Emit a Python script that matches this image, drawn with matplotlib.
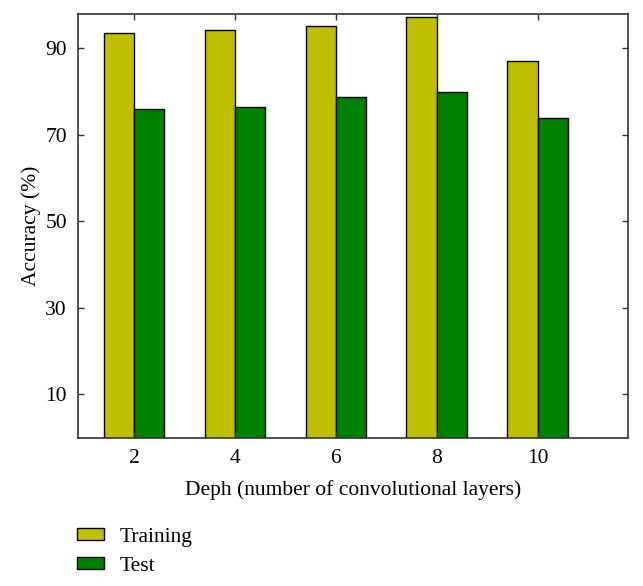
import matplotlib
matplotlib.use("Agg")
import matplotlib.pyplot as plt
import numpy as np

depths = [2, 4, 6, 8, 10]
training = [93.4, 94.1, 95.1, 97.2, 87.1]
test = [75.9, 76.3, 78.6, 79.8, 73.8]
yticks = [10, 30, 50, 70, 90]

plt.rcParams['font.family'] = ['Liberation Serif', 'DejaVu Serif']

fig = plt.figure(figsize=(6.43, 5.86), dpi=100)
ax = fig.add_axes([78/643, 1-437.5/586, (628-78)/643, (437.5-14)/586])

w = 0.6
x = np.array(depths, dtype=float)
ax.bar(x - w/2, training, width=w, color='#BFBF00', edgecolor='black', linewidth=1.0, label='Training')
ax.bar(x + w/2, test, width=w, color='#008000', edgecolor='black', linewidth=1.0, label='Test')

ax.set_xlim(0.89, 11.79)
ax.set_ylim(0, 97.9)
ax.set_xticks(depths)
ax.set_yticks(yticks)
ax.tick_params(direction='in', top=True, right=True, labeltop=False, labelright=False,
               labelsize=15.5, length=4, width=1, color='#333333', pad=8)
for s in ax.spines.values():
    s.set_linewidth(1.2)
    s.set_color('#333333')

ax.set_xlabel('Deph (number of convolutional layers)', fontsize=15.5, labelpad=9)
ax.set_ylabel('Accuracy (%)', fontsize=15.5, labelpad=3)

fig.legend(loc='upper left', bbox_to_anchor=(68/643, 1-519/586), frameon=False,
           fontsize=15.5, handlelength=1.25, handleheight=0.47, labelspacing=0.48,
           handletextpad=0.75, borderaxespad=0)

fig.savefig('out.png', dpi=100)
